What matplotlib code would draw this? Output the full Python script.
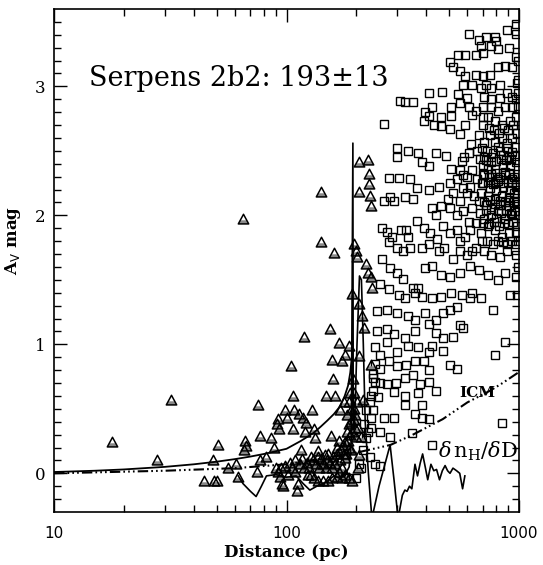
import numpy as np
import matplotlib
matplotlib.use('Agg')
import matplotlib.pyplot as plt
from matplotlib.path import Path
from matplotlib.ticker import FixedLocator, NullFormatter

# ---------------- data ----------------
# foreground stars (triangles): distance (pc), A_V (mag)
tri_dist = [17.8, 27.8, 31.8, 44.3, 48.1, 48.6, 50.3, 50.6, 55.8, 61.8, 60.8, 65.1, 65.8, 66.2, 66.7,
            74.7, 75.4, 76.6, 77.1, 81.4, 85.7, 88.7, 91.3, 92.1, 92.8, 93.4, 96.0, 96.7, 98.3, 100,
            101.7, 104.5, 106.2, 107, 107.8, 108.9, 110.9, 111.9, 113.6, 115.6, 117.6, 118.8, 119.6,
            120.8, 124.1, 127.2, 128.4, 131.6, 132.5, 136.2, 141, 141, 148.4, 150, 153.6, 155.2, 156.3,
            159, 160.6, 161.7, 168.6, 170.2, 173.2, 176.2, 178, 185.5, 188.7, 192, 193.3, 195.3, 195.3,
            198.7, 200.8, 204.3, 204.3, 205.7, 205.7, 209.3, 211.5, 213, 215.2, 219.9, 223.3, 225.6,
            227.2, 228.7, 231, 231, 231, 232.5, 223.3,
            90.2, 91.8, 95, 98.3, 103.5, 105.2, 108.9, 114.4, 116.4, 118.8, 122.9, 125, 129.4, 133.9,
            136.2, 138.6, 141, 143.4, 145.9, 148.4, 151, 153.6, 156.3, 159, 161.7, 164.5, 167.4, 170.2,
            173.2, 176.2, 179.2, 182.3, 185.5, 188.7, 192, 195.3, 198.7, 202.2, 127.2, 131.6, 136.2,
            143.4, 151, 156.3, 164.5, 173.2, 179.2, 185.5, 192, 202.2, 205.7,
            182, 185, 188, 190, 187, 195, 198, 201, 197, 183, 186, 180, 178, 175, 172, 168, 165]
tri_av = [0.24, 0.10, 0.57, -0.06, 0.10, -0.06, -0.06, 0.22, 0.04, -0.03, 0.07, 1.97, 0.18, 0.25, 0.21,
          0.01, 0.53, 0.10, 0.29, 0.13, 0.27, 0.20, 0.38, 0.42, 0.34, -0.03, -0.08, -0.10, 0.49, 0.43,
          -0.01, 0.83, 0.60, 0.34, 0.49, 0.01, -0.14, -0.08, 0.46, 0.18, 0.43, 1.06, 0.32,
          0.39, -0.01, 0.13, 0.49, 0.34, 0.27, 0.17, 2.18, 1.79, 0.60, 0.10, 1.12, 0.29, 0.88,
          0.73, 1.71, 0.60, 1.01, 0.49, 0.87, 0.55, 0.92, 0.99, 0.49, 1.39, 0.73, 1.78, 0.50,
          1.72, 1.68, 2.41, 2.18, 1.31, 0.91, 0.28, 1.22, 0.57, 1.13, 1.62, 2.43, 2.24,
          2.32, 2.15, 2.07, 1.52, 0.84, 1.44, 1.55,
          0.04, 0.01, 0.04, 0.06, 0.08, 0.04, 0.10, 0.07, 0.11, 0.04, 0.08, 0.04, 0.10, 0.07,
          0.13, 0.04, 0.11, 0.07, 0.14, 0.04, 0.15, 0.08, 0.04, 0.13, 0.07, 0.15, 0.01, 0.10,
          0.04, 0.15, 0.24, 0.32, 0.38, 0.18, 0.32, 0.41, 0.28, 0.35, -0.01, -0.04, -0.06,
          -0.06, -0.06, -0.04, -0.03, -0.04, -0.01, -0.04, -0.06, 0.04, 0.14,
          0.45, 0.55, 0.62, 0.40, 0.30, 0.62, 0.45, 0.55, 0.35, 0.25, 0.20, 0.15, 0.12, 0.22, 0.18, 0.25, 0.20]

# background stars (squares): distance (pc), A_V (mag)
sq_dist = [612, 674, 722, 786, 800, 887, 966, 966, 902, 814, 760, 685, 697, 651, 587, 548, 503, 520, 558,
           587, 651, 697, 747, 814, 872, 934, 966, 983, 828, 760, 722, 685, 629, 577, 548, 597, 709, 760,
           828, 887, 934, 966, 511, 558, 608, 651, 697, 760, 814, 872, 934, 409, 465, 309, 322, 351, 424,
           262, 393, 409, 461, 511, 389, 431, 461, 503, 558, 587, 629, 697, 734, 786, 842, 918, 966,
           300, 333, 300, 369, 382, 409, 438, 486, 511, 567, 608, 662, 709, 760, 828, 902, 966, 275, 305,
           339, 363, 280, 262, 290, 322, 351, 409, 454, 503, 539, 577, 629, 662, 709, 760, 814, 872, 934,
           966, 424, 438, 461, 503, 539, 577, 629, 674, 722, 786, 828, 902, 966, 257, 271, 285, 311, 333,
           327, 363, 389, 416, 446, 469, 503, 539, 587, 618, 685, 734, 786, 842, 902, 966, 275, 300, 316,
           339, 382, 409, 454, 478, 520, 558, 597, 651, 709, 760, 828, 887, 966, 257, 280, 300, 316, 351,
           369, 395, 424, 461, 503, 558, 618, 674, 734, 814, 872, 966, 253, 275, 305, 322, 357, 382, 424,
           461, 511, 567, 629, 685, 773, 918, 983, 244, 271, 300, 333, 357, 395, 438, 469, 503, 539, 618,
           244, 271, 290, 322, 357, 409, 438, 469, 558, 577, 872, 786, 520, 240, 253, 271, 300, 333, 369,
           409, 424, 469, 240, 253, 275, 300, 327, 357, 389, 409, 503, 539, 236, 253, 271, 295, 322, 351,
           376, 409, 438, 231, 248, 290, 322, 369, 382, 236, 262, 290, 322, 357, 382, 409, 842, 231, 253,
           280, 345, 424, 228, 240, 209, 253, 216, 220, 213, 199, 186, 179, 220, 231, 224, 206, 228, 236,
           240, 236,
           674, 709, 747, 786, 842, 887, 934, 697, 734, 786, 857, 918, 697, 747, 800, 857, 918, 685, 734,
           786, 842, 902, 950, 709, 760, 814, 872, 934, 651, 597, 558, 618, 577, 520, 494,
           700, 740, 780, 820, 860, 900, 940, 980, 690, 730, 770, 810, 850, 890, 930, 975,
           680, 720, 760, 800, 840, 880, 920, 960, 700, 745, 790, 830, 870, 910, 950, 990,
           690, 735, 775, 815, 855, 895, 935, 975, 710, 750, 790, 830, 870, 910, 950, 990,
           680, 720, 760, 800, 840, 880, 920, 960, 700, 740, 780, 820, 860, 900, 940, 980,
           690, 730, 770, 810, 850, 890, 930, 975, 620, 580, 600, 560, 640, 610, 560, 630,
           990, 995, 990, 995, 985, 995, 990, 995]
sq_av = [3.41, 3.36, 3.38, 3.38, 3.35, 3.44, 3.48, 3.41, 3.30, 3.29, 3.31, 3.31, 3.26, 3.24, 3.24, 3.24,
         3.19, 3.15, 3.12, 3.08, 3.09, 3.08, 3.09, 3.15, 3.16, 3.15, 3.23, 3.03, 3.01, 2.99, 3.01, 2.99,
         3.01, 3.01, 2.94, 2.91, 2.92, 2.90, 2.91, 2.95, 2.92, 2.90, 2.84, 2.87, 2.84, 2.81, 2.84, 2.84,
         2.81, 2.84, 2.84, 2.95, 2.96, 2.89, 2.88, 2.88, 2.84, 2.71, 2.80, 2.77, 2.76, 2.77, 2.73, 2.70,
         2.69, 2.67, 2.63, 2.70, 2.78, 2.76, 2.76, 2.73, 2.70, 2.73, 2.76,
         2.52, 2.50, 2.45, 2.48, 2.41, 2.38, 2.48, 2.46, 2.36, 2.42, 2.48, 2.50, 2.45, 2.41, 2.50, 2.45,
         2.41, 2.29, 2.29, 2.28, 2.21, 2.14, 2.11, 2.11, 2.14, 2.13, 2.20, 2.22, 2.25, 2.28, 2.31, 2.35,
         2.28, 2.31, 2.32, 2.28, 2.34, 2.28, 2.22, 2.06, 2.00, 2.07, 2.06, 2.00, 2.03, 2.06, 2.11, 2.08,
         2.13, 2.08, 2.07, 2.11, 1.90, 1.87, 1.83, 1.89, 1.83, 1.89, 1.96, 1.90, 1.86, 1.82, 1.92, 1.86,
         1.89, 1.83, 1.89, 1.86, 1.92, 1.89, 1.83, 1.86, 1.87, 1.79, 1.75, 1.72, 1.75, 1.75, 1.78, 1.72,
         1.75, 1.66, 1.72, 1.69, 1.75, 1.72, 1.69, 1.68, 1.72, 1.69, 1.66, 1.59, 1.55, 1.51, 1.44, 1.44,
         1.59, 1.61, 1.54, 1.52, 1.55, 1.61, 1.58, 1.54, 1.50, 1.55, 1.52, 1.47, 1.43, 1.38, 1.36, 1.40,
         1.37, 1.36, 1.37, 1.40, 1.38, 1.40, 1.36, 1.27, 1.38, 1.38, 1.26, 1.27, 1.24, 1.22, 1.19, 1.24,
         1.19, 1.24, 1.27, 1.29, 1.36, 1.10, 1.12, 1.08, 1.05, 1.10, 1.16, 1.09, 1.05, 1.15, 1.13, 1.02,
         0.92, 1.06, 0.98, 0.92, 1.02, 0.94, 0.99, 0.98, 0.94, 0.99, 0.95, 0.85, 0.81, 0.87, 0.83, 0.84,
         0.87, 0.87, 0.80, 0.84, 0.81, 0.74, 0.70, 0.69, 0.70, 0.74, 0.76, 0.69, 0.71, 0.64, 0.60, 0.59,
         0.63, 0.60, 0.62, 0.53, 0.49, 0.43, 0.43, 0.53, 0.46, 0.43, 0.42, 0.39, 0.35, 0.32, 0.28, 0.31,
         0.22, 0.13, 0.07, 0.04, 0.06, 0.38, 0.27, 0.18, -0.04, -0.04, -0.03, 0.49, 0.43, 0.32, 0.07,
         0.55, 0.64, 0.71, 0.77,
         2.62, 2.57, 2.62, 2.57, 2.60, 2.56, 2.60, 2.39, 2.36, 2.36, 2.39, 2.38, 2.25, 2.21, 2.20, 2.22,
         2.20, 2.17, 2.15, 2.25, 2.15, 2.14, 2.17, 1.97, 2.00, 2.03, 1.97, 2.00, 1.94, 2.17, 2.11, 2.22,
         2.21, 2.17, 2.13,
         2.70, 2.68, 2.66, 2.64, 2.68, 2.66, 2.70, 2.64, 2.52, 2.50, 2.48, 2.53, 2.47, 2.52, 2.49, 2.53,
         2.44, 2.43, 2.45, 2.42, 2.44, 2.43, 2.44, 2.46, 2.32, 2.30, 2.33, 2.30, 2.31, 2.33, 2.30, 2.32,
         2.25, 2.26, 2.24, 2.27, 2.25, 2.26, 2.25, 2.24, 2.10, 2.12, 2.09, 2.11, 2.10, 2.12, 2.10, 2.09,
         2.02, 2.04, 2.05, 1.98, 2.02, 2.04, 2.02, 2.03, 1.94, 1.93, 1.95, 1.92, 1.94, 1.93, 1.95, 1.92,
         1.80, 1.80, 1.78, 1.80, 1.79, 1.78, 1.80, 1.78, 2.55, 2.45, 2.30, 2.35, 2.15, 1.95, 1.80, 1.72,
         2.85, 2.95, 3.05, 3.20, 2.20, 2.00, 1.80, 1.60]

# extinction model curve (solid)
model_dist = [10, 15, 20, 30, 40, 50, 60, 70, 80, 100, 115, 130, 140, 150, 160, 170, 178, 184, 188, 191, 193]
model_av = [0.01, 0.02, 0.03, 0.05, 0.07, 0.09, 0.11, 0.13, 0.15, 0.19, 0.25, 0.31, 0.36, 0.41, 0.46,
            0.52, 0.60, 0.68, 0.78, 0.90, 1.02]

# ICM curve (dash-dot-dot)
icm_dist = [10, 30, 60, 100, 150, 200, 280, 350, 470, 600, 750, 850, 990]
icm_av = [0.0, 0.02, 0.04, 0.07, 0.12, 0.16, 0.22, 0.30, 0.42, 0.55, 0.64, 0.70, 0.78]

# delta n_H / delta D trace (solid)
dn_dist = [62, 65, 70, 74, 78, 82, 90, 100, 110, 118, 126, 135, 143, 150, 160, 170, 180, 186, 190,
           193, 193.6, 196, 201, 206, 210, 214, 218, 225, 233, 250, 279, 290, 302, 315, 323, 330, 338,
           346, 357, 366, 376, 385, 395, 405, 418, 430, 442, 455, 468, 481, 493, 505, 520, 539, 556,
           572, 585]
dn_av = [-0.02, -0.08, -0.14, -0.18, -0.10, -0.02, -0.01, -0.03, -0.02, -0.08, -0.13, -0.10, -0.08,
         -0.06, -0.02, -0.04, 0.0, 0.05, 0.25, 2.56, 0.45, 0.35, 1.0, 1.53, 1.50, 1.0, 0.40, 0.0, -0.35,
         -0.10, 0.22, -0.05, -0.35, -0.17, -0.13, -0.14, -0.10, -0.12, 0.07, -0.02, 0.08, 0.15, 0.05,
         -0.05, 0.07, 0.02, 0.03, -0.05, 0.02, 0.06, 0.02, 0.0, 0.04, 0.02, 0.0, -0.12, -0.02]

x_ticks = [10, 100, 1000]
x_ticklabels = ['10', '100', '1000']
y_ticks = [0, 1, 2, 3]
y_ticklabels = ['0', '1', '2', '3']

# ---------------- figure ----------------
fig = plt.figure(figsize=(5.43, 5.65), dpi=100)
ax = fig.add_axes([54 / 543, 53 / 565, 465 / 543, 503 / 565])
ax.set_xscale('log')
ax.set_xlim(10, 1000)
ax.set_ylim(-0.3, 3.6)

# squares
ax.plot(sq_dist, sq_av, ls='none', marker='s', ms=5.5, mfc='none', mec='black', mew=1.0, zorder=2)

# triangles: gray base band + black outline
tri_path = Path([(-1, -0.85), (1, -0.85), (0, 1.0), (-1, -0.85)],
                [Path.MOVETO, Path.LINETO, Path.LINETO, Path.CLOSEPOLY])
band_path = Path([(-1, -0.85), (1, -0.85), (0.55, -0.15), (-0.55, -0.15), (-1, -0.85)],
                 [Path.MOVETO, Path.LINETO, Path.LINETO, Path.LINETO, Path.CLOSEPOLY])
ax.plot(tri_dist, tri_av, ls='none', marker=band_path, ms=7.5, mfc='#888888', mec='none', zorder=3)
ax.plot(tri_dist, tri_av, ls='none', marker=tri_path, ms=7.5, mfc='none', mec='black', mew=1.1, zorder=3)

# curves
ax.plot(model_dist, model_av, color='black', lw=1.3, zorder=4)
ax.plot(icm_dist, icm_av, color='black', lw=1.5, dashes=(5, 1.5, 0.8, 1.5, 0.8, 1.5, 0.8, 1.5), zorder=4)
ax.plot(dn_dist, dn_av, color='black', lw=1.2, zorder=4)

# texts
ax.text(14.1, 3.0, 'Serpens 2b2: 193\u00b113', family='DejaVu Serif', fontsize=19.5, ha='left',
        va='baseline')
ax.text(665, 0.62, 'ICM', family='DejaVu Serif', fontsize=11, fontweight='bold', ha='center', va='center')
ax.text(450, 0.17, r'$\delta\,\mathrm{n_H}/\delta\mathrm{D}$', fontsize=15, ha='left', va='center',
        math_fontfamily='dejavuserif')

# axes styling
for s in ax.spines.values():
    s.set_linewidth(1.2)
ax.xaxis.set_major_locator(FixedLocator(x_ticks))
ax.set_xticklabels(x_ticklabels, family='DejaVu Sans', fontsize=11)
minor_x = [m * 10 ** e for e in (1, 2) for m in range(2, 10)]
ax.xaxis.set_minor_locator(FixedLocator(minor_x))
ax.xaxis.set_minor_formatter(NullFormatter())
ax.yaxis.set_major_locator(FixedLocator(y_ticks))
ax.set_yticklabels(y_ticklabels, family='DejaVu Serif', fontsize=12)
ax.yaxis.set_minor_locator(FixedLocator(np.arange(-0.2, 3.6, 0.1)))
ax.tick_params(which='both', direction='in', top=True, right=True, width=1.0)
ax.tick_params(which='major', length=9)
ax.tick_params(which='minor', length=5)
ax.tick_params(axis='x', which='major', pad=10)
ax.tick_params(axis='y', which='major', pad=6)

ax.set_xlabel('Distance (pc)', family='DejaVu Serif', fontweight='bold', fontsize=12)
ax.xaxis.set_label_coords(0.5, -0.064)
ax.set_ylabel(r'A$_\mathrm{V}$ mag', family='DejaVu Serif', fontweight='bold', fontsize=12)
ax.yaxis.set_label_coords(-0.066, 0.54)

fig.savefig('out.png', dpi=100)
